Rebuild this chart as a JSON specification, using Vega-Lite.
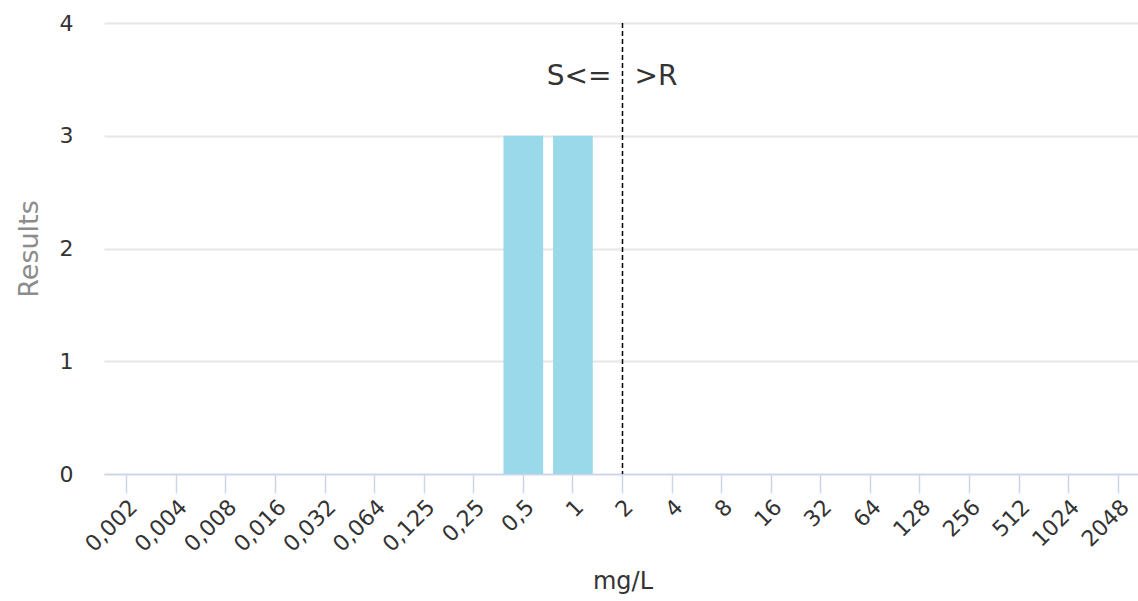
{
  "$schema": "https://vega.github.io/schema/vega-lite/v6.json",
  "width": 1037,
  "height": 451,
  "autosize": {"type": "none"},
  "padding": {"left": 104, "top": 23, "right": 0, "bottom": 127},
  "config": {
    "view": {"stroke": null},
    "font": "DejaVu Sans"
  },
  "datasets": {
    "results": [
      {"mic": "0,002", "count": 0},
      {"mic": "0,004", "count": 0},
      {"mic": "0,008", "count": 0},
      {"mic": "0,016", "count": 0},
      {"mic": "0,032", "count": 0},
      {"mic": "0,064", "count": 0},
      {"mic": "0,125", "count": 0},
      {"mic": "0,25", "count": 0},
      {"mic": "0,5", "count": 3},
      {"mic": "1", "count": 3},
      {"mic": "2", "count": 0},
      {"mic": "4", "count": 0},
      {"mic": "8", "count": 0},
      {"mic": "16", "count": 0},
      {"mic": "32", "count": 0},
      {"mic": "64", "count": 0},
      {"mic": "128", "count": 0},
      {"mic": "256", "count": 0},
      {"mic": "512", "count": 0},
      {"mic": "1024", "count": 0},
      {"mic": "2048", "count": 0}
    ],
    "breakpoint": [{"mic": "2"}],
    "labels": [
      {"mic": "2", "pos": 3.45, "label": "S<=", "side": "left"},
      {"mic": "2", "pos": 3.45, "label": ">R", "side": "right"}
    ]
  },
  "encoding": {
    "x": {
      "field": "mic",
      "type": "ordinal",
      "sort": null,
      "scale": {
        "domain": ["0,002","0,004","0,008","0,016","0,032","0,064","0,125","0,25","0,5","1","2","4","8","16","32","64","128","256","512","1024","2048"],
        "paddingInner": 0.2,
        "paddingOuter": 0.058
      },
      "axis": {
        "title": "mg/L",
        "titleFontSize": 24,
        "titleFontWeight": "normal",
        "titleColor": "#333333",
        "titlePadding": 14,
        "labelAngle": -45,
        "labelFontSize": 22,
        "labelColor": "#333333",
        "labelPadding": 3,
        "domainColor": "#ccd6eb",
        "domainWidth": 1.5,
        "tickColor": "#ccd6eb",
        "tickWidth": 1.5,
        "tickSize": 19,
        "grid": false
      }
    }
  },
  "layer": [
    {
      "data": {"name": "results"},
      "mark": {"type": "bar", "color": "#99d9ea"},
      "encoding": {
        "y": {
          "field": "count",
          "type": "quantitative",
          "scale": {"domain": [0, 4]},
          "axis": {
            "title": "Results",
            "titleFontSize": 27,
            "titleFontWeight": "normal",
            "titleColor": "#8c8c8c",
            "titlePadding": 16,
            "values": [0, 1, 2, 3, 4],
            "format": "d",
            "labelFontSize": 22,
            "labelColor": "#333333",
            "labelPadding": 31,
            "domain": false,
            "ticks": false,
            "gridColor": "#e6e6e6",
            "gridWidth": 2
          }
        }
      }
    },
    {
      "data": {"name": "breakpoint"},
      "mark": {"type": "rule", "color": "#000000", "strokeDash": [5, 3], "strokeWidth": 1.5},
      "encoding": {}
    },
    {
      "data": {"name": "labels"},
      "transform": [{"filter": "datum.side === 'left'"}],
      "mark": {"type": "text", "align": "right", "baseline": "alphabetic", "dx": -11, "fontSize": 28, "color": "#333333"},
      "encoding": {
        "y": {"field": "pos", "type": "quantitative"},
        "text": {"field": "label"}
      }
    },
    {
      "data": {"name": "labels"},
      "transform": [{"filter": "datum.side === 'right'"}],
      "mark": {"type": "text", "align": "left", "baseline": "alphabetic", "dx": 12, "fontSize": 28, "color": "#333333"},
      "encoding": {
        "y": {"field": "pos", "type": "quantitative"},
        "text": {"field": "label"}
      }
    }
  ]
}
